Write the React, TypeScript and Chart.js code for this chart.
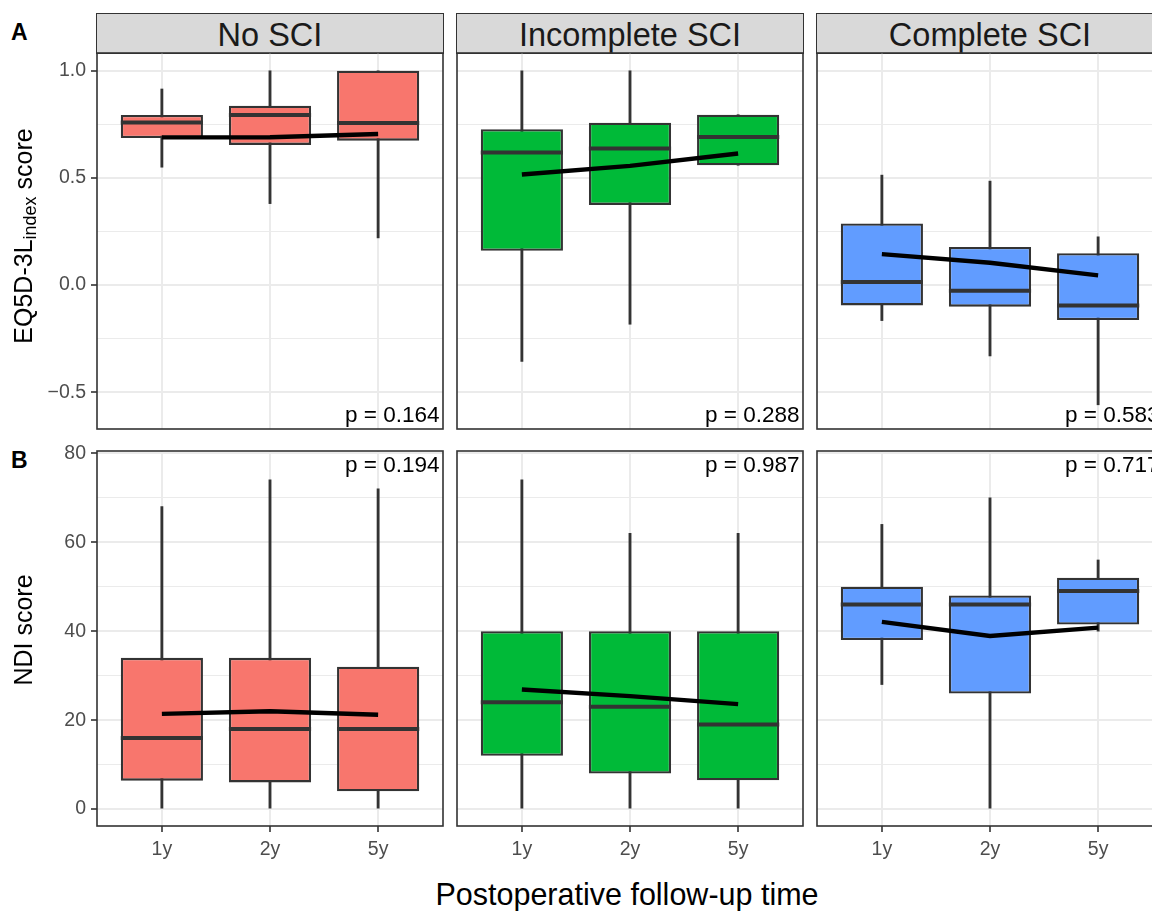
import React, { useEffect, useRef } from 'react';
import { Chart, registerables } from 'chart.js';

Chart.register(...registerables);

const FONT = '"Liberation Sans", Arial, Helvetica, sans-serif';

// ---- categories ----
const timepoints = ['1y', '2y', '5y'];
const groups = ['No SCI', 'Incomplete SCI', 'Complete SCI'];
const groupColors = ['#F8766D', '#00BA38', '#619CFF'];

// ---- Row A: EQ5D-3L index (one inner array per group, one value per time point) ----
const eqLow = [[0.55, 0.38, 0.22], [-0.357, -0.183, 0.559], [-0.166, -0.331, -0.559]];
const eqQ1 = [[0.686, 0.654, 0.674], [0.16, 0.374, 0.559], [-0.095, -0.101, -0.163]];
const eqMedian = [[0.759, 0.794, 0.756], [0.618, 0.637, 0.691], [0.014, -0.027, -0.095]];
const eqQ3 = [[0.794, 0.837, 1.0], [0.727, 0.758, 0.795], [0.287, 0.178, 0.148]];
const eqHigh = [[0.915, 1.0, 1.0], [1.0, 1.0, 0.795], [0.513, 0.485, 0.225]];
const eqMean = [[0.689, 0.69, 0.705], [0.516, 0.556, 0.614], [0.144, 0.104, 0.045]];
const eqP = ['p = 0.164', 'p = 0.288', 'p = 0.583'];
const eqTicks = [-0.5, 0, 0.5, 1];
const eqTickLabels = ['\u22120.5', '0.0', '0.5', '1.0'];
const eqMinorTicks = [-0.25, 0.25, 0.75];
const eqLimits = [-0.672, 1.083];

// ---- Row B: NDI score ----
const ndiLow = [[0, 0, 0], [0, 0, 0], [28, 0, 40]];
const ndiQ1 = [[6.4, 6, 4], [12, 8, 6.5], [38, 26, 41.5]];
const ndiMedian = [[16, 18, 18], [24, 23, 19], [46, 46, 49]];
const ndiQ3 = [[34, 34, 32], [40, 40, 40], [50, 48, 52]];
const ndiHigh = [[68, 74, 72], [74, 62, 62], [64, 70, 56]];
const ndiMean = [[21.4, 22.0, 21.2], [26.9, 25.4, 23.6], [42.1, 38.9, 40.8]];
const ndiP = ['p = 0.194', 'p = 0.987', 'p = 0.717'];
const ndiTicks = [0, 20, 40, 60, 80];
const ndiTickLabels = ['0', '20', '40', '60', '80'];
const ndiMinorTicks = [10, 30, 50, 70];
const ndiLimits = [-3.8, 80.5];

const rows = [
  { low: eqLow, q1: eqQ1, median: eqMedian, q3: eqQ3, high: eqHigh, mean: eqMean, p: eqP,
    ticks: eqTicks, tickLabels: eqTickLabels, minor: eqMinorTicks, limits: eqLimits, pAtTop: false },
  { low: ndiLow, q1: ndiQ1, median: ndiMedian, q3: ndiQ3, high: ndiHigh, mean: ndiMean, p: ndiP,
    ticks: ndiTicks, tickLabels: ndiTickLabels, minor: ndiMinorTicks, limits: ndiLimits, pAtTop: true },
];

// ---- layout ----
const PANEL_X = [97, 457, 817];
const PANEL_W = 346;
const ROW_Y = [53, 451];
const ROW_H = [376, 375];
const Y_AXIS_W = 60;
const X_AXIS_H = 45;
const PAD = 4;
const PAD_TOP = 14;
const STRIP_Y = 13;
const STRIP_H = 40;

function Panel({ row, col }: { row: number; col: number }) {
  const ref = useRef<HTMLCanvasElement>(null);
  const isLeft = col === 0;
  const isBottom = row === 1;
  const padLeft = isLeft ? Y_AXIS_W : PAD;
  const padBottom = isBottom ? X_AXIS_H : PAD;
  const left = PANEL_X[col] - padLeft;
  const top = ROW_Y[row] - PAD_TOP;
  const width = PANEL_W + padLeft + PAD;
  const height = ROW_H[row] + PAD_TOP + padBottom;

  useEffect(() => {
    const r = rows[row];
    const color = groupColors[col];
    const median = r.median[col];
    const decor = {
      id: 'panelDecor',
      afterDatasetDraw(chart: any, args: any) {
        if (args.index !== 1) return;
        const ctx = chart.ctx;
        const ys = chart.scales.y;
        const ca = chart.chartArea;
        ctx.save();
        ctx.beginPath();
        ctx.rect(ca.left, ca.top, ca.right - ca.left, ca.bottom - ca.top);
        ctx.clip();
        ctx.strokeStyle = '#333333';
        ctx.lineWidth = 4;
        ctx.lineCap = 'butt';
        args.meta.data.forEach((bar: any, i: number) => {
          const { x, width: w } = bar.getProps(['x', 'width'], true);
          const py = ys.getPixelForValue(median[i]);
          ctx.beginPath();
          ctx.moveTo(x - w / 2, py);
          ctx.lineTo(x + w / 2, py);
          ctx.stroke();
        });
        ctx.restore();
      },
      afterDraw(chart: any) {
        const ctx = chart.ctx;
        const ca = chart.chartArea;
        ctx.save();
        ctx.strokeStyle = '#333333';
        ctx.lineWidth = 1.6;
        ctx.strokeRect(ca.left, ca.top, ca.right - ca.left, ca.bottom - ca.top);
        ctx.fillStyle = '#000000';
        ctx.font = `22.5px ${FONT}`;
        ctx.textAlign = 'right';
        ctx.textBaseline = 'alphabetic';
        const ty = r.pAtTop ? ca.top + 21 : ca.bottom - 7.5;
        ctx.fillText(r.p[col], ca.right - 3.5, ty);
        ctx.restore();
      },
    };

    const chart = new Chart(ref.current as HTMLCanvasElement, {
      type: 'bar',
      data: {
        datasets: [
          {
            type: 'bar',
            data: timepoints.map((_, i) => ({ x: i + 1, y: [r.low[col][i], r.high[col][i]] })),
            backgroundColor: '#333333',
            borderWidth: 0,
            barThickness: 2.2,
            grouped: false,
            order: 2,
          } as any,
          {
            type: 'bar',
            data: timepoints.map((_, i) => ({ x: i + 1, y: [r.q1[col][i], r.q3[col][i]] })),
            backgroundColor: color,
            borderColor: '#333333',
            borderWidth: 2.3,
            borderSkipped: false,
            barPercentage: 0.76,
            categoryPercentage: 1,
            grouped: false,
            order: 1,
          } as any,
          {
            type: 'line',
            data: timepoints.map((_, i) => ({ x: i + 1, y: r.mean[col][i] })),
            borderColor: '#000000',
            borderWidth: 4.4,
            pointRadius: 0,
            tension: 0,
            borderCapStyle: 'butt',
            order: 0,
          } as any,
        ],
      },
      options: {
        responsive: false,
        animation: false,
        events: [],
        layout: { padding: { left: isLeft ? 0 : PAD, right: PAD, top: PAD_TOP, bottom: isBottom ? 0 : PAD } },
        plugins: { legend: { display: false }, tooltip: { enabled: false } },
        scales: {
          x: {
            type: 'linear',
            min: 0.4,
            max: 3.6,
            offset: false,
            afterBuildTicks: (s: any) => {
              s.ticks = timepoints.map((_, i) => ({ value: i + 1 }));
            },
            afterFit: (s: any) => {
              s.height = isBottom ? X_AXIS_H : 0;
              s.paddingLeft = 0;
              s.paddingRight = 0;
            },
            ticks: {
              display: isBottom,
              autoSkip: false,
              maxRotation: 0,
              padding: 6,
              color: '#4D4D4D',
              font: { family: FONT, size: 19.5 },
              callback: (v: any) => timepoints[Math.round(v) - 1] ?? '',
            },
            grid: {
              offset: false,
              color: '#EBEBEB',
              lineWidth: 2,
              drawTicks: isBottom,
              tickLength: 6,
              tickColor: '#333333',
              tickWidth: 1.6,
            },
            border: { display: false },
          },
          y: {
            type: 'linear',
            min: r.limits[0],
            max: r.limits[1],
            afterBuildTicks: (s: any) => {
              const t = [
                ...r.ticks.map((v) => ({ value: v, minor: false })),
                ...r.minor.map((v) => ({ value: v, minor: true })),
              ];
              t.sort((a, b) => a.value - b.value);
              s.ticks = t;
            },
            afterFit: (s: any) => {
              s.width = isLeft ? Y_AXIS_W : 0;
              s.paddingTop = 0;
              s.paddingBottom = 0;
            },
            ticks: {
              display: isLeft,
              autoSkip: false,
              padding: 5,
              color: '#4D4D4D',
              font: { family: FONT, size: 19.5 },
              callback: (v: any) => {
                const k = r.ticks.indexOf(v);
                return k >= 0 ? r.tickLabels[k] : '';
              },
            },
            grid: {
              color: '#EBEBEB',
              lineWidth: (c: any) => (c.tick && c.tick.minor ? 1 : 2),
              drawTicks: isLeft,
              tickLength: 6,
              tickColor: (c: any) => (c.tick && c.tick.minor ? 'rgba(0,0,0,0)' : '#333333'),
              tickWidth: 1.6,
            },
            border: { display: false },
          },
        },
      } as any,
      plugins: [decor],
    });
    return () => chart.destroy();
  }, [row, col]);

  return (
    <canvas
      ref={ref}
      width={width}
      height={height}
      style={{ position: 'absolute', left, top, width, height }}
    />
  );
}

function Text({ x, y, size, align = 'left', bold = false, color = '#000', children }: any) {
  const tx = align === 'center' ? 'translateX(-50%)' : align === 'right' ? 'translateX(-100%)' : 'none';
  return (
    <div
      style={{
        position: 'absolute',
        left: x,
        top: y - 0.8465 * size,
        fontSize: size,
        lineHeight: 1,
        fontWeight: bold ? 700 : 400,
        fontFamily: FONT,
        color,
        whiteSpace: 'nowrap',
        transform: tx,
      }}
    >
      {children}
    </div>
  );
}

function VTitle({ cx, cy, size, children }: any) {
  return (
    <div
      style={{
        position: 'absolute',
        left: cx,
        top: cy,
        fontSize: size,
        lineHeight: 1,
        fontFamily: FONT,
        color: '#000',
        whiteSpace: 'nowrap',
        transform: 'translate(-50%, -50%) rotate(-90deg)',
      }}
    >
      {children}
    </div>
  );
}

export default function App() {
  return (
    <div
      style={{
        position: 'absolute',
        left: 0,
        top: 0,
        width: 1152,
        height: 911,
        overflow: 'hidden',
        background: '#FFFFFF',
        fontFamily: FONT,
      }}
    >
      {groups.map((g, c) => (
        <div
          key={'strip' + c}
          style={{
            position: 'absolute',
            left: PANEL_X[c] - 0.8,
            top: STRIP_Y,
            width: PANEL_W + 1.6,
            height: STRIP_H + 0.8,
            boxSizing: 'border-box',
            background: '#D9D9D9',
            border: '1.6px solid #333333',
          }}
        />
      ))}
      {groups.map((g, c) => (
        <Text key={'st' + c} x={PANEL_X[c] + PANEL_W / 2} y={46.5} size={32.5} align="center" color="#1A1A1A">
          {g}
        </Text>
      ))}
      {[0, 1].map((r) => [0, 1, 2].map((c) => <Panel key={`p${r}${c}`} row={r} col={c} />))}
      <Text x={11} y={40} size={23} bold>
        A
      </Text>
      <Text x={11} y={468} size={23} bold>
        B
      </Text>
      <VTitle cx={23} cy={236} size={25}>
        EQ5D-3L<sub style={{ fontSize: '0.72em', verticalAlign: '-0.25em', lineHeight: 0 }}>index</sub> score
      </VTitle>
      <VTitle cx={23} cy={630} size={25}>
        NDI score
      </VTitle>
      <Text x={627} y={905} size={30.5} align="center">
        Postoperative follow-up time
      </Text>
    </div>
  );
}
